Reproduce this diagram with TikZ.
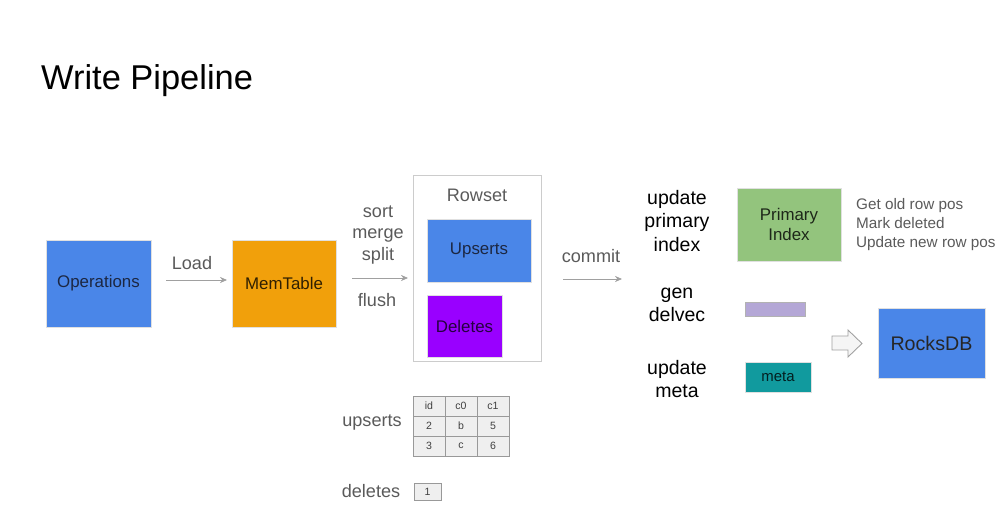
\documentclass[tikz,border=0pt]{standalone}
\usepackage{fontspec}
\setmainfont{Liberation Sans}
\usetikzlibrary{arrows.meta,positioning}
\definecolor{opsblue}{HTML}{4A86E8}
\definecolor{memorange}{HTML}{F1A00B}
\definecolor{delpurple}{HTML}{9900FF}
\definecolor{idxgreen}{HTML}{93C47D}
\definecolor{vecviolet}{HTML}{B4A7D6}
\definecolor{metateal}{HTML}{119A9E}
\definecolor{arrowgray}{HTML}{A0A0A0}
\definecolor{labelgray}{HTML}{5A5A5A}
\definecolor{inktext}{HTML}{1C2742}
\definecolor{cellfill}{HTML}{EFEFEF}

\begin{document}
\begin{tikzpicture}[x=0.02cm, y=-0.02cm, font=\fontsize{10.3}{12.5}\selectfont,
  box/.style={draw=black!12, line width=0.4pt, inner sep=2pt, align=center, text=inktext, font=\fontsize{9.6}{11.5}\selectfont},
  lbl/.style={text=labelgray, align=center},
  stage/.style={text=black, align=center, font=\fontsize{11.1}{13.4}\selectfont},
  flow/.style={-{Stealth[length=4pt,width=3.5pt]}, draw=arrowgray, line width=0.5pt},
  cell/.style={draw=black!40, fill=cellfill, minimum width=0.64cm, minimum height=0.4cm, inner sep=0pt, text=black!75, font=\fontsize{6}{7}\selectfont}]
\useasboundingbox (0,0) rectangle (1005,510);

\node[anchor=west, font=\fontsize{19.6}{24}\selectfont] (title) at (35,81) {Write Pipeline};

% load and flush
\node[box, fill=opsblue, minimum width=2.10cm, minimum height=1.74cm] (ops) at (98.5,283.5) {Operations};
\node[box, fill=memorange, text=black!80!memorange, minimum width=2.08cm, minimum height=1.74cm] (mem) at (284,283.5) {MemTable};
\coordinate (loadend) at (227,280);
\draw[flow, shorten <=0.3cm] (ops.east |- loadend) -- (loadend);
\node[lbl] (loadlbl) at (192,263) {Load};

\node[draw=black!20, line width=0.5pt, minimum width=2.56cm, minimum height=3.72cm] (rowset) at (477,268) {};
\node[lbl] (rowsetlbl) at (477,195) {Rowset};
\node[box, fill=opsblue, minimum width=2.08cm, minimum height=1.26cm] (ups) at (479,250.5) {Upserts};
\node[box, fill=delpurple, text=black!75!delpurple, minimum width=1.50cm, minimum height=1.24cm] (dels) at (464.5,326) {Deletes};
\coordinate (flushend) at (408,278);
\draw[flow, shorten <=0.32cm] (mem.east |- flushend) -- (flushend);
\node[lbl] (sortlbl) at (378,235) {sort\\merge\\split};
\node[lbl] (flushlbl) at (377,300) {flush};

% commit
\coordinate (commitend) at (622,279);
\draw[flow, shorten <=0.44cm] (rowset.east |- commitend) -- (commitend);
\node[lbl] (commitlbl) at (591,256) {commit};

\node[stage] (idxlbl) at (677,221) {update\\primary\\index};
\node[stage] (veclbl) at (677,305) {gen\\delvec};
\node[stage] (metalbl) at (677,379) {update\\meta};
\node[box, fill=idxgreen, text=black!80!idxgreen, minimum width=2.08cm, minimum height=1.46cm] (pindex) at (789,224.5) {Primary\\Index};
\node[lbl, anchor=west, align=left, font=\fontsize{8.7}{10.8}\selectfont] (notes) at (850,225) {Get old row pos\\Mark deleted\\Update new row pos};
\node[draw=black!30, fill=vecviolet, minimum width=1.20cm, minimum height=0.28cm, inner sep=0pt] (delvec) at (775,309) {};
\node[box, fill=metateal, text=black!80!metateal, minimum width=1.32cm, minimum height=0.60cm, font=\fontsize{8.5}{10}\selectfont] (meta) at (778,377) {meta};
\draw[draw=arrowgray, fill=black!4, line width=0.5pt] (832,336) -- (848,336) -- (848,330) -- (862,343.5) -- (848,357) -- (848,350) -- (832,350) -- cycle;
\node[box, fill=opsblue, text=black!85, minimum width=2.14cm, minimum height=1.40cm, font=\fontsize{11.2}{13}\selectfont] (rocks) at (931.5,343) {RocksDB};

% data
\node[lbl] (upslbl) at (372,423) {upserts};
\foreach \r/\row in {0/{id,c0,c1}, 1/{2,b,5}, 2/{3,c,6}}
  \foreach \v [count=\c] in \row
    \node[cell] (cell-\r-\c) at (397+32*\c, 406+20*\r) {\v};
\node[lbl] (dellbl) at (371,491) {deletes};
\node[cell, minimum width=0.54cm, minimum height=0.34cm] (delcell) at (427.5,491.5) {1};
\end{tikzpicture}
\end{document}
